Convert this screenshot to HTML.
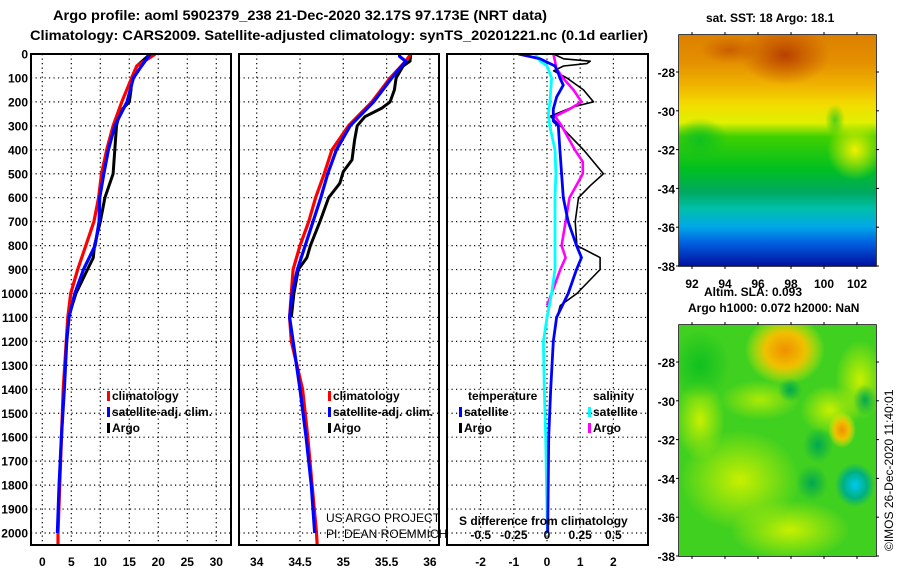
<!DOCTYPE html>
<html><head><meta charset="utf-8"><style>
html,body{margin:0;padding:0;background:#fff;}
svg{display:block;font-family:"Liberation Sans",sans-serif;}
.t{font-weight:bold;font-size:13px;fill:#000;}
.lg{font-weight:bold;font-size:12px;fill:#000;}
</style></head><body>
<svg id="c" width="900" height="580" viewBox="0 0 900 580" xmlns="http://www.w3.org/2000/svg">
<defs>
<linearGradient id="sstg" x1="0" y1="0" x2="0" y2="1">
<stop offset="0" stop-color="#dc8000"/><stop offset="0.12" stop-color="#e49000"/>
<stop offset="0.22" stop-color="#f0b400"/><stop offset="0.3" stop-color="#f2dc00"/>
<stop offset="0.38" stop-color="#e0f000"/><stop offset="0.44" stop-color="#40d000"/>
<stop offset="0.58" stop-color="#00c020"/><stop offset="0.68" stop-color="#00a860"/>
<stop offset="0.75" stop-color="#00c0a8"/><stop offset="0.83" stop-color="#00a8e8"/>
<stop offset="0.9" stop-color="#0060e0"/><stop offset="1" stop-color="#0010a0"/></linearGradient>
<radialGradient id="brown"><stop offset="0" stop-color="#b84000"/><stop offset="1" stop-color="#c04800" stop-opacity="0"/></radialGradient>
<radialGradient id="yel"><stop offset="0" stop-color="#f0f000"/><stop offset="1" stop-color="#f0f000" stop-opacity="0"/></radialGradient>
<radialGradient id="yg"><stop offset="0" stop-color="#c8f000"/><stop offset="1" stop-color="#c8f000" stop-opacity="0"/></radialGradient>
<radialGradient id="org"><stop offset="0" stop-color="#f09000"/><stop offset="0.5" stop-color="#f0c000"/><stop offset="1" stop-color="#f0f000" stop-opacity="0"/></radialGradient>
<radialGradient id="cy"><stop offset="0" stop-color="#00c8f0"/><stop offset="0.6" stop-color="#00b080"/><stop offset="1" stop-color="#00b080" stop-opacity="0"/></radialGradient>
<radialGradient id="dg"><stop offset="0" stop-color="#00a850"/><stop offset="1" stop-color="#00a850" stop-opacity="0"/></radialGradient>
<radialGradient id="grn"><stop offset="0" stop-color="#10c020"/><stop offset="1" stop-color="#10c020" stop-opacity="0"/></radialGradient>
<clipPath id="m1c"><rect x="679" y="35" width="197" height="231"/></clipPath>
<clipPath id="m2c"><rect x="679" y="325" width="197" height="231"/></clipPath>
<clipPath id="p1c"><rect x="31" y="54" width="200" height="491"/></clipPath>
<clipPath id="p2c"><rect x="239" y="54" width="200" height="491"/></clipPath>
<clipPath id="p3c"><rect x="447" y="54" width="201" height="491"/></clipPath>
</defs>
<text class="t" x="53" y="20" textLength="494" lengthAdjust="spacingAndGlyphs" style="font-size:14px">Argo profile: aoml 5902379_238 21-Dec-2020 32.17S 97.173E (NRT data)</text>
<text class="t" x="30" y="40" textLength="618" lengthAdjust="spacingAndGlyphs" style="font-size:14px">Climatology: CARS2009. Satellite-adjusted climatology: synTS_20201221.nc (0.1d earlier)</text>
<g id="panels"></g>
<g clip-path="url(#m1c)">
<rect x="679" y="35" width="197" height="231" fill="url(#sstg)"/>
<ellipse cx="785" cy="55" rx="45" ry="30" fill="url(#brown)"/>
<ellipse cx="730" cy="50" rx="30" ry="14" fill="url(#brown)" opacity="0.6"/>
<ellipse cx="700" cy="140" rx="28" ry="22" fill="url(#grn)"/>
<ellipse cx="855" cy="150" rx="28" ry="30" fill="url(#yel)"/>
<ellipse cx="835" cy="120" rx="10" ry="16" fill="url(#grn)" opacity="0.7"/>
</g>
<text class="lg" x="706" y="22">sat. SST: 18 Argo: 18.1</text>
<g clip-path="url(#m2c)">
<rect x="679" y="325" width="197" height="231" fill="#40d020"/>
<ellipse cx="740" cy="480" rx="60" ry="50" fill="url(#yg)"/>
<ellipse cx="790" cy="530" rx="60" ry="30" fill="url(#yg)"/>
<ellipse cx="830" cy="410" rx="30" ry="25" fill="url(#yg)"/>
<ellipse cx="760" cy="400" rx="40" ry="20" fill="url(#yg)" opacity="0.8"/>
<ellipse cx="700" cy="420" rx="25" ry="40" fill="url(#yg)"/>
<ellipse cx="860" cy="380" rx="25" ry="40" fill="url(#yg)"/>
<ellipse cx="700" cy="365" rx="30" ry="35" fill="url(#grn)"/>
<ellipse cx="785" cy="350" rx="40" ry="35" fill="url(#org)"/>
<ellipse cx="842" cy="430" rx="14" ry="18" fill="url(#org)"/>
<ellipse cx="855" cy="485" rx="20" ry="22" fill="url(#cy)"/>
<ellipse cx="812" cy="483" rx="16" ry="18" fill="url(#dg)"/>
<ellipse cx="818" cy="445" rx="15" ry="18" fill="url(#dg)"/>
<ellipse cx="865" cy="400" rx="12" ry="16" fill="url(#dg)"/>
<ellipse cx="790" cy="390" rx="12" ry="12" fill="url(#dg)"/>
</g>
<text class="lg" x="704" y="296">Altim. SLA: 0.093</text>
<text class="lg" x="688" y="312">Argo h1000: 0.072 h2000: NaN</text>
<text transform="translate(893,551) rotate(-90)" style="font-size:12px">©IMOS 26-Dec-2020 11:40:01</text>
<text x="326" y="522" style="font-size:12px" clip-path="url(#p2c)">US ARGO PROJECT</text>
<text x="326" y="538" style="font-size:12px">PI: DEAN ROEMMICH</text>
<text class="lg" x="459" y="525">S difference from climatology</text>
</svg>
<script>
const tClimD=[0,50,100,200,300,400,500,600,700,800,900,1000,1100,1400,2000,2060];
const tClim=[19.5,16.3,15.4,13.7,12.2,11.1,10.2,9.7,8.9,7.5,6.1,4.9,4.4,3.6,2.7,2.7];
const tSatD=[0,50,100,200,300,400,500,600,700,800,900,1000,1100,1200,1400,1600,1800,2000];
const tSat=[18.6,17.1,15.7,14.6,12.5,11.4,10.6,9.9,9.8,9.1,7.1,5.6,4.6,4.2,3.8,3.3,2.9,2.6];
const tArgoD=[0,30,50,100,150,200,240,300,400,500,600,700,800,850,900,1000,1100,1120];
const tArgo=[18.6,17.2,16.3,15.4,15.3,15.0,13.4,12.8,12.5,12.2,10.8,10.0,9.0,8.8,7.8,5.8,4.5,4.4];
const sClimD=[0,30,100,200,300,400,500,600,700,800,900,1000,1100,1200,1400,1600,1800,2000,2060];
const sClim=[35.78,35.72,35.54,35.33,35.06,34.87,34.78,34.68,34.60,34.50,34.42,34.40,34.38,34.40,34.53,34.59,34.64,34.69,34.70];
const sSatD=[0,10,30,100,200,300,400,500,600,700,800,900,1000,1100,1200,1400,1600,1800,2000];
const sSat=[35.65,35.65,35.72,35.56,35.35,35.08,34.92,34.82,34.74,34.65,34.56,34.47,34.41,34.38,34.42,34.50,34.57,34.63,34.67];
const sArgoD=[0,30,50,100,150,200,227,262,300,359,442,491,540,568,600,700,800,850,900,1000,1100];
const sArgo=[35.78,35.77,35.69,35.61,35.59,35.54,35.44,35.25,35.16,35.13,35.10,35.00,34.96,34.90,34.83,34.73,34.62,34.58,34.48,34.43,34.40];
const dTSatD=[0,20,50,80,100,130,180,230,280,300,400,500,600,700,800,850,900,1000,1100,1200,1400,1600,2000];
const dTSat=[-0.86,-0.21,0.24,0.34,0.39,0.49,0.29,0.19,0.19,0.34,0.39,0.44,0.49,0.64,0.89,1.04,0.89,0.64,0.29,0.19,0.11,0.05,0.02];
const dTArgoD=[0,20,30,40,50,70,100,150,200,220,260,300,400,500,550,600,700,800,850,900,1000,1050,1100];
const dTArgo=[0.2,0.5,1.3,1.2,0.5,0.2,0.6,1.1,1.4,0.8,0.1,0.4,1.1,1.7,1.3,0.95,0.85,0.9,1.6,1.6,0.9,0.4,0.3];
const dSSatD=[0,30,50,100,200,250,300,400,500,600,900,1000,1100,1200,1400,1600,2000];
const dSSat=[-0.09,-0.05,0,0.035,0.022,0.01,0.02,0.06,0.067,0.06,0.06,0.035,0,-0.027,-0.02,-0.01,0.003];
const dSArgoD=[0,30,60,100,150,200,230,260,300,400,450,500,550,600,700,800,850,900,1000,1050];
const dSArgo=[0.048,0.06,0.07,0.12,0.2,0.26,0.17,0.06,0.11,0.21,0.27,0.27,0.22,0.17,0.14,0.11,0.14,0.1,0.035,0];
const depthTicks=[0,100,200,300,400,500,600,700,800,900,1000,1100,1200,1300,1400,1500,1600,1700,1800,1900,2000];
const tTicks=[0,5,10,15,20,25,30];
const sTicks=[34,34.5,35,35.5,36];
const dTicks=[-2,-1,0,1,2];
const dsTickLabels=["-0.5","-0.25","0","0.25","0.5"];
const dsTickVals=[-0.5,-0.25,0,0.25,0.5];
const latTicks=[-28,-30,-32,-34,-36,-38];
const lonTicks=[92,94,96,98,100,102];

const NS="http://www.w3.org/2000/svg";
const G=document.getElementById('panels');
function el(tag,attrs,parent){const e=document.createElementNS(NS,tag);for(const k in attrs)e.setAttribute(k,attrs[k]);(parent||G).appendChild(e);return e;}
const Y=d=>54+d*0.2395;
const xT=v=>42.3+v*5.8;
const xS=v=>256.7+(v-34)*86.6;
const xD=v=>547+v*33.2;
const xDS=v=>547+v*132.6;
const panels=[{x:31,w:200,name:'temperature-panel'},{x:239,w:200,name:'salinity-panel'},{x:447,w:201,name:'difference-panel'}];
const vx=[tTicks.map(xT),sTicks.map(xS),dTicks.map(xD)];
panels.forEach((p,i)=>{
  const g=el('g',{});
  
  
  depthTicks.forEach(d=>{const l=el('line',{x1:p.x,x2:p.x+p.w,y1:Y(d),y2:Y(d),stroke:'#000','stroke-width':1.2,'stroke-dasharray':'1.2 3.3'},g);
    
    });
  vx[i].forEach(x=>{const l=el('line',{x1:x,x2:x,y1:54,y2:545,stroke:'#000','stroke-width':1.2,'stroke-dasharray':'1.2 3.3'},g);
    
    });
  p.g=g;
});
function line(parent,ds,vs,fx,col,w,name,clip){
  const pts=ds.map((d,i)=>fx(vs[i]).toFixed(1)+','+Y(d).toFixed(1)).join(' ');
  const e=el('polyline',{points:pts,fill:'none',stroke:col,'stroke-width':w,'stroke-linejoin':'round','clip-path':'url(#'+clip+')'},parent);
  
  
}
line(panels[0].g,tArgoD,tArgo,xT,'#000',3,'argo-temperature-line','p1c');
line(panels[0].g,tClimD,tClim,xT,'#f00',3.2,'climatology-temperature-line','p1c');
line(panels[0].g,tSatD,tSat,xT,'#00f',3.2,'satellite-temperature-line','p1c');
line(panels[1].g,sArgoD,sArgo,xS,'#000',3,'argo-salinity-line','p2c');
line(panels[1].g,sClimD,sClim,xS,'#f00',3.2,'climatology-salinity-line','p2c');
line(panels[1].g,sSatD,sSat,xS,'#00f',3.2,'satellite-salinity-line','p2c');
line(panels[2].g,dTArgoD,dTArgo,xD,'#000',1.6,'argo-temperature-difference-line','p3c');
line(panels[2].g,dSArgoD,dSArgo,xDS,'#f0f',2.6,'argo-salinity-difference-line','p3c');
line(panels[2].g,dSSatD,dSSat,xDS,'#0ff',2.8,'satellite-salinity-difference-line','p3c');
line(panels[2].g,dTSatD,dTSat,xD,'#00f',2.8,'satellite-temperature-difference-line','p3c');
panels.forEach(p=>{const r=el('rect',{x:p.x,y:54,width:p.w,height:491,fill:'none',stroke:'#000','stroke-width':2});
  
  });
depthTicks.forEach(d=>{const t=el('text',{x:28,y:Y(d)+4.5,'text-anchor':'end',class:'lg'});t.textContent=d;
  
  });
function xlabels(vals,labels,fx,y){vals.forEach((v,i)=>{const t=el('text',{x:fx(v),y:y,'text-anchor':'middle',class:'lg'});t.textContent=labels[i];
  
  });}
xlabels(tTicks,tTicks.map(String),xT,566);
xlabels(sTicks,sTicks.map(String),xS,566);
xlabels(dTicks,dTicks.map(String),xD,566);
xlabels(dsTickVals,dsTickLabels,xDS,539);
function leg(x,y,col,txt){const r=el('rect',{x:x,y:y-9,width:3,height:10,fill:col});
  
  
  const t=el('text',{x:x+5,y:y,class:'lg'});t.textContent=txt;
  
  }
leg(107,400,'#f00','climatology');leg(107,416,'#00f','satellite-adj. clim.');leg(107,432,'#000','Argo');
leg(328,400,'#f00','climatology');leg(328,416,'#00f','satellite-adj. clim.');leg(328,432,'#000','Argo');
const tt=el('text',{x:468,y:400,class:'lg'});tt.textContent='temperature';


const st=el('text',{x:593,y:400,class:'lg'});st.textContent='salinity';


leg(459,416,'#00f','satellite');leg(459,432,'#000','Argo');
leg(588,416,'#0ff','satellite');leg(588,432,'#f0f','Argo');
const lonX=v=>692+(v-92)*16.5;
[[35,true],[325,false]].forEach(([top,lab])=>{
  const latY=v=>top+37+(-28-v)*19.4;
  const f=el('rect',{x:679,y:top,width:197,height:231,fill:'none',stroke:'#000','stroke-width':1.5});
  
  
  latTicks.forEach(v=>{const y=Math.min(latY(v),top+231);
    el('line',{x1:676,x2:679,y1:y,y2:y,stroke:'#000'});el('line',{x1:876,x2:879,y1:y,y2:y,stroke:'#000'});
    const t=el('text',{x:675,y:y+5,'text-anchor':'end',class:'lg'});t.textContent=v;
    
    });
  lonTicks.forEach(v=>{el('line',{x1:lonX(v),x2:lonX(v),y1:top-3,y2:top,stroke:'#000'});el('line',{x1:lonX(v),x2:lonX(v),y1:top+231,y2:top+234,stroke:'#000'});
    if(lab){const t=el('text',{x:lonX(v),y:top+253,'text-anchor':'middle',class:'lg'});t.textContent=v;
    
    }});
});
</script>
</body></html>
